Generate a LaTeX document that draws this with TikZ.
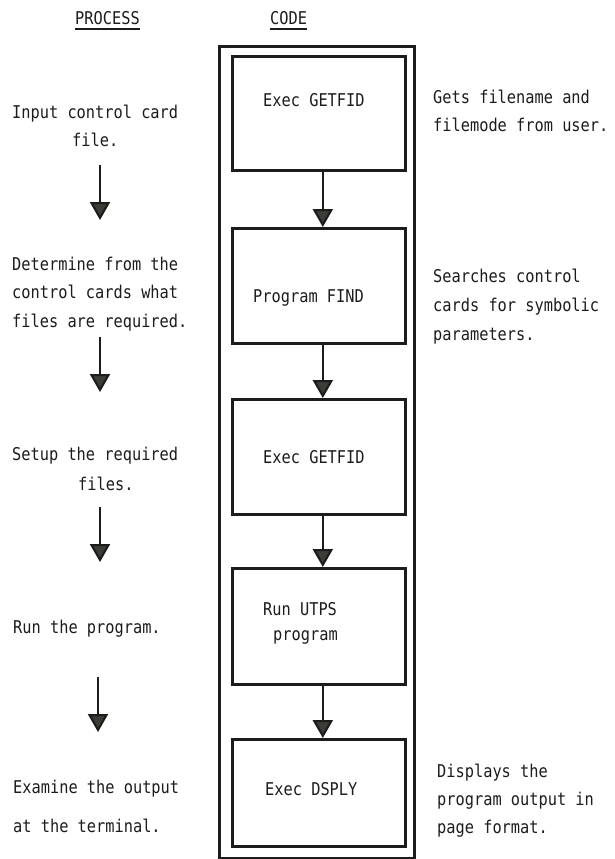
\documentclass[tikz,border=0pt]{standalone}
\usepackage{fontspec}
\setmonofont[FakeStretch=0.87]{DejaVu Sans Mono}
\usetikzlibrary{arrows.meta}

\definecolor{ink}{HTML}{1C1C1C}
\definecolor{headfill}{HTML}{3A3E37}

\tikzset{
  txt/.style={font=\ttfamily\fontsize{17.6}{20}\selectfont, text=ink, inner sep=0pt, anchor=base west},
  box/.style={draw=ink, line width=2.6pt, rectangle, inner sep=0pt},
  flow/.style={draw=ink, line width=2.1pt,
    -{Triangle[width=20pt,length=18pt,fill=headfill]}},
}

\begin{document}
\begin{tikzpicture}[x=1pt,y=-1pt]
\useasboundingbox[fill=white] (0,0) rectangle (615,859);

% column headings
\node[txt] (hproc) at (75,25) {PROCESS};
\node[txt] (hcode) at (270,25) {CODE};
\draw[ink, line width=1.5pt] (hproc.south west) ++(0,3.5) coordinate (u1) -- (hproc.south east |- u1);
\draw[ink, line width=1.5pt] (hcode.south west) ++(0,3.5) coordinate (u2) -- (hcode.south east |- u2);

% outer frame of the code column
\node[box, minimum width=195pt, minimum height=812pt, anchor=north west] (frame) at (218,45) {};

% code steps
\node[box, minimum width=173pt, minimum height=114pt, anchor=north west] (b1) at (231,55) {};
\node[box, minimum width=173pt, minimum height=115pt, anchor=north west] (b2) at (231,227) {};
\node[box, minimum width=173pt, minimum height=115pt, anchor=north west] (b3) at (231,398) {};
\node[box, minimum width=173pt, minimum height=116pt, anchor=north west] (b4) at (231,567) {};
\node[box, minimum width=173pt, minimum height=107pt, anchor=north west] (b5) at (231,738) {};

\node[txt] (t1) at (263,106) {Exec GETFID};
\node[txt] (t2) at (253,302) {Program FIND};
\node[txt] (t3) at (263,463) {Exec GETFID};
\node[txt] (t4a) at (263,615) {Run UTPS};
\node[txt] (t4b) at (273,640) {program};
\node[txt] (t5) at (265,795) {Exec DSPLY};

\draw[flow] ([xshift=4pt]b1.south) -- ([xshift=4pt]b2.north);
\draw[flow] ([xshift=4pt]b2.south) -- ([xshift=4pt]b3.north);
\draw[flow] ([xshift=4pt]b3.south) -- ([xshift=4pt]b4.north);
\draw[flow] ([xshift=4pt]b4.south) -- ([xshift=4pt]b5.north);

% process column
\node[txt] (p1a) at (12,118) {Input control card};
\node[txt] (p1b) at (72,146) {file.};
\node[txt] (p2a) at (12,270) {Determine from the};
\node[txt] (p2b) at (12,298) {control cards what};
\node[txt] (p2c) at (12,327) {files are required.};
\node[txt] (p3a) at (12,460) {Setup the required};
\node[txt] (p3b) at (78,490) {files.};
\node[txt] (p4) at (13,633) {Run the program.};
\node[txt] (p5a) at (13,793) {Examine the output};
\node[txt] (p5b) at (13,832) {at the terminal.};

\coordinate (a1s) at (100,165); \coordinate (a1e) at (100,220);
\coordinate (a2s) at (100,337); \coordinate (a2e) at (100,392);
\coordinate (a3s) at (100,507); \coordinate (a3e) at (100,562);
\coordinate (a4s) at (98,677);  \coordinate (a4e) at (98,732);
\draw[flow] (a1s) -- (a1e);
\draw[flow] (a2s) -- (a2e);
\draw[flow] (a3s) -- (a3e);
\draw[flow] (a4s) -- (a4e);

% notes on the code steps
\node[txt] (n1a) at (433,103) {Gets filename and};
\node[txt] (n1b) at (433,131) {filemode from user.};
\node[txt] (n2a) at (433,282) {Searches control};
\node[txt] (n2b) at (433,311) {cards for symbolic};
\node[txt] (n2c) at (433,340) {parameters.};
\node[txt] (n5a) at (437,777) {Displays the};
\node[txt] (n5b) at (437,805) {program output in};
\node[txt] (n5c) at (437,833) {page format.};
\end{tikzpicture}
\end{document}
